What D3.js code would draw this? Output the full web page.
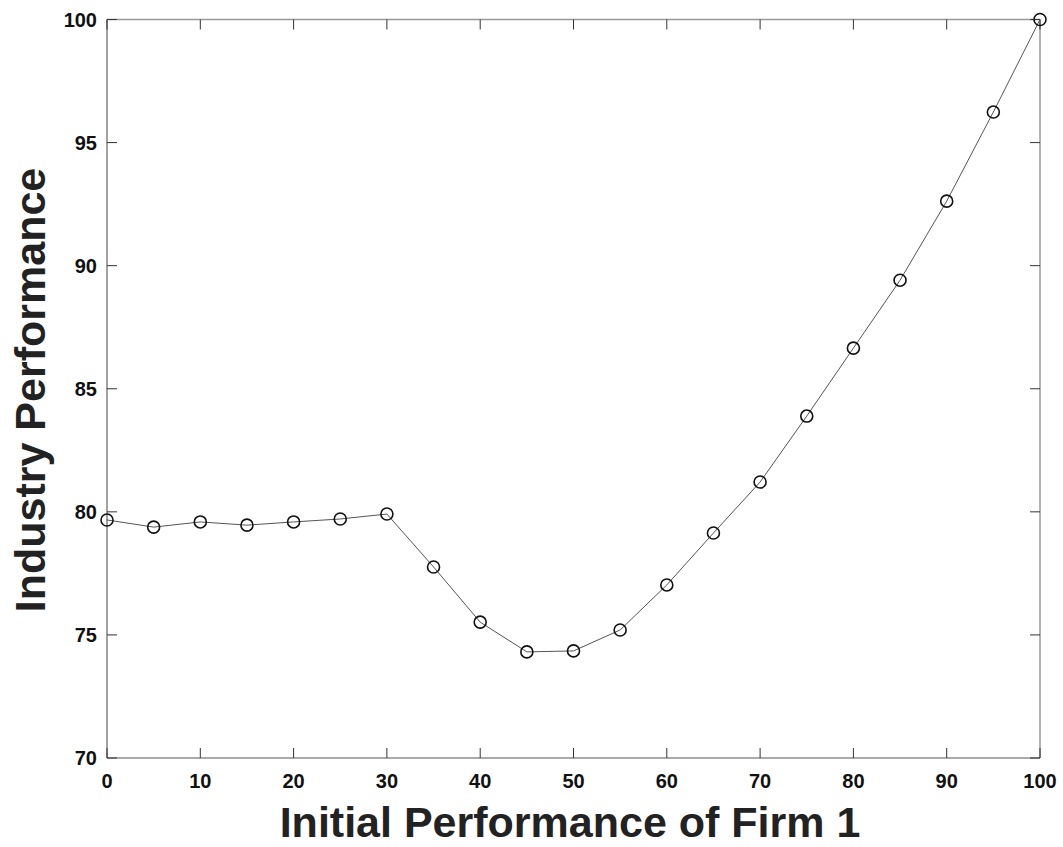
<!DOCTYPE html>
<html><head><meta charset="utf-8">
<script src="https://cdn.jsdelivr.net/npm/d3@7"></script>
<style>body{margin:0;background:#fff;} svg{display:block;}</style>
</head><body>
<script>
const xValues = [0,5,10,15,20,25,30,35,40,45,50,55,60,65,70,75,80,85,90,95,100];
const yValues = [79.67,79.38,79.59,79.46,79.59,79.71,79.91,77.76,75.52,74.31,74.35,75.2,77.03,79.14,81.21,83.89,86.65,89.41,92.62,96.24,100];
const xTicks = [0,10,20,30,40,50,60,70,80,90,100];
const yTicks = [70,75,80,85,90,95,100];
const xTitle = "Initial Performance of Firm 1";
const yTitle = "Industry Performance";

const W = 1063, H = 847;
const L = 107, R = 1040, T = 19.5, B = 758;
const svg = d3.select("body").append("svg").attr("width", W).attr("height", H);
const x = d3.scaleLinear().domain([0,100]).range([L,R]);
const y = d3.scaleLinear().domain([70,100]).range([B,T]);
const font = "Arial, 'Liberation Sans', sans-serif";

// frame
svg.append("line").attr("x1",L).attr("x2",R).attr("y1",B).attr("y2",B).attr("stroke","#aaa").attr("stroke-width",2);
svg.append("line").attr("x1",L).attr("x2",R).attr("y1",T).attr("y2",T).attr("stroke","#999").attr("stroke-width",1.5);
svg.append("line").attr("x1",L).attr("x2",L).attr("y1",T).attr("y2",B).attr("stroke","#444").attr("stroke-width",1);
svg.append("line").attr("x1",R).attr("x2",R).attr("y1",T).attr("y2",B).attr("stroke","#666").attr("stroke-width",1);

// ticks
const tl = 10;
xTicks.forEach(v => {
  svg.append("line").attr("x1",x(v)).attr("x2",x(v)).attr("y1",B).attr("y2",B-tl).attr("stroke","#333");
  svg.append("line").attr("x1",x(v)).attr("x2",x(v)).attr("y1",T).attr("y2",T+tl).attr("stroke","#333");
  svg.append("text").attr("x",x(v)).attr("y",788).attr("text-anchor","middle")
    .attr("font-family",font).attr("font-weight","bold").attr("font-size",20).attr("fill","#111").text(v);
});
yTicks.forEach(v => {
  svg.append("line").attr("x1",L).attr("x2",L+tl).attr("y1",y(v)).attr("y2",y(v)).attr("stroke","#333");
  svg.append("line").attr("x1",R).attr("x2",R-tl).attr("y1",y(v)).attr("y2",y(v)).attr("stroke","#333");
  svg.append("text").attr("x",97).attr("y",y(v)+7).attr("text-anchor","end")
    .attr("font-family",font).attr("font-weight","bold").attr("font-size",20).attr("fill","#111").text(v);
});

// line
const data = xValues.map((d,i)=>[d,yValues[i]]);
svg.append("path").datum(data)
  .attr("d", d3.line().x(d=>x(d[0])).y(d=>y(d[1])))
  .attr("fill","none").attr("stroke","#555").attr("stroke-width",1);
svg.selectAll("circle.m").data(data).enter().append("circle")
  .attr("cx",d=>x(d[0])).attr("cy",d=>y(d[1])).attr("r",6)
  .attr("fill","none").attr("stroke","#111").attr("stroke-width",1.6);

// titles
svg.append("text").attr("x",570).attr("y",837).attr("text-anchor","middle")
  .attr("font-family",font).attr("font-weight","bold").attr("font-size",43).attr("fill","#222").text(xTitle);
svg.append("text").attr("transform",`translate(45,390) rotate(-90)`).attr("text-anchor","middle")
  .attr("font-family",font).attr("font-weight","bold").attr("font-size",43).attr("fill","#222").text(yTitle);
</script>
</body></html>
